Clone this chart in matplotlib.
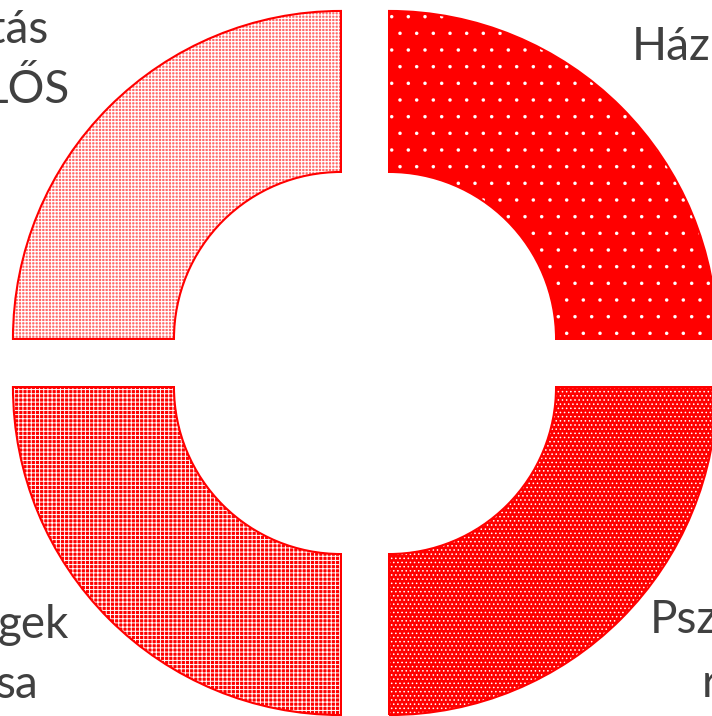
import matplotlib
matplotlib.use("Agg")
import matplotlib.pyplot as plt

# Data: four equal parts of the doughnut, clockwise from 12 o'clock
values = [25, 25, 25, 25]
# visible label fragments (the chart is cropped), one list per slice
labels = [["Ház"], ["Psz", "r"], ["gek", "sa"], ["tás", "LŐS"]]
hatches = [".", "....", "++++", "+++++"]
face_colors = ["#ff0000", "#ff0000", "#ff0000", "#ff6868"]
hatch_widths = [0.1, 0.6, 0.7, 0.8]

W, H = 712, 716
fig = plt.figure(figsize=(W / 100, H / 100), dpi=100)
ax = fig.add_axes([0, 0, 1, 1])

center = (365, H - 363)
radius = 328
ring = 161
explode = [34] * len(values)  # pie offsets are in data units

# filled + hatched wedges
wedges, _ = ax.pie(values, radius=radius, center=center, startangle=90,
                   counterclock=False, explode=explode,
                   wedgeprops=dict(width=ring, linewidth=0, edgecolor="white"))
for w, fc, h, hw in zip(wedges, face_colors, hatches, hatch_widths):
    w.set_facecolor(fc)
    w.set_hatch(h)
    if hasattr(w, "set_hatch_linewidth"):
        w.set_hatch_linewidth(hw)

# red outlines on top
ax.pie(values, radius=radius, center=center, startangle=90,
       counterclock=False, explode=explode,
       wedgeprops=dict(width=ring, linewidth=1.5, edgecolor="#ff0000",
                       facecolor="none"))

# label lines (positions in pixels from the top-left corner)
text_pos = [
    [(632, 60, "left")],
    [(650, 633, "left"), (702, 697, "left")],
    [(69, 638, "right"), (38, 698, "right")],
    [(48, 43, "right"), (70, 103, "right")],
]
for lines, pos in zip(labels, text_pos):
    for txt, (x, y, ha) in zip(lines, pos):
        ax.text(x, H - y, txt, ha=ha, va="baseline", fontsize=33,
                family="Lato", color="#404040")

ax.set_xlim(0, W)
ax.set_ylim(0, H)
ax.set_aspect("auto")
ax.axis("off")

fig.savefig("out.png", dpi=100)
